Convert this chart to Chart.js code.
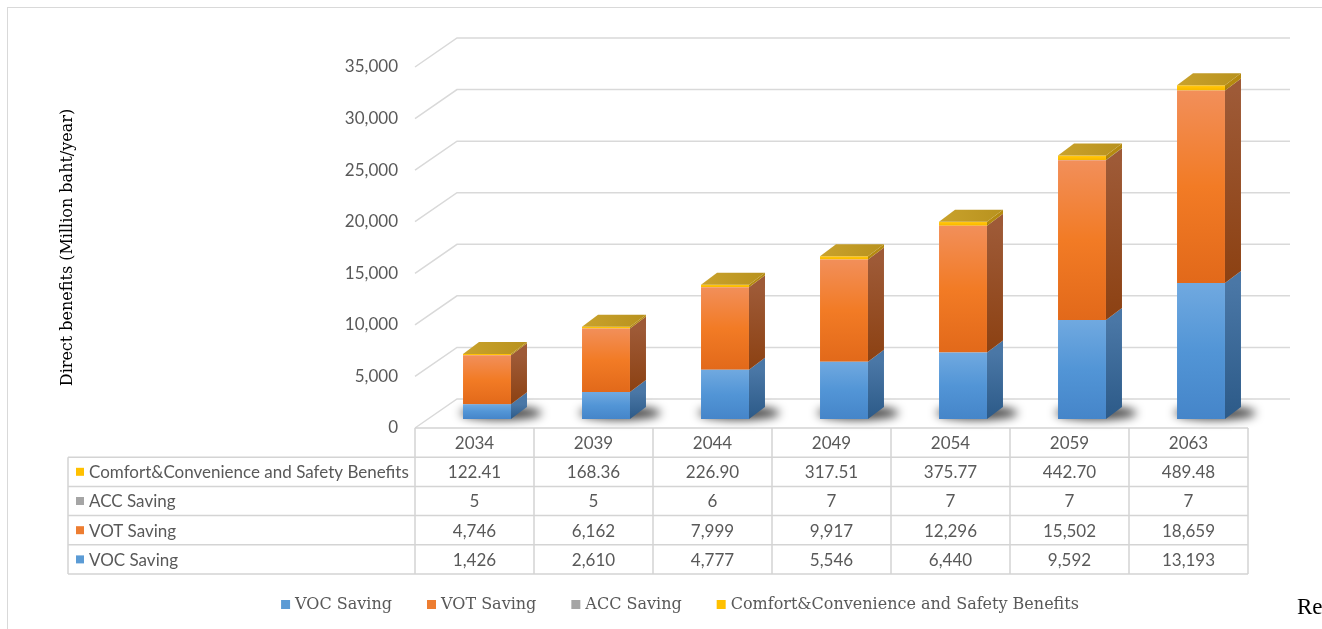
<!DOCTYPE html>
<html>
<head>
<meta charset="utf-8">
<title>Direct benefits</title>
<script src="https://cdn.jsdelivr.net/npm/chart.js@4.4.1/dist/chart.umd.min.js"></script>
<style>
  html, body { margin: 0; padding: 0; background: #fff; overflow: hidden; }
  #frame { position: absolute; left: 7px; top: 7px; width: 1400px; height: 700px; border: 1.5px solid #d9d9d9; }
  #wrap { position: absolute; left: 0; top: 0; width: 1322px; height: 629px; }
  #tail { position: absolute; left: 1297px; top: 594px; font: 23px 'Liberation Serif', serif; color: #000; }
</style>
</head>
<body>
<div id="frame"></div>
<div id="wrap"><canvas id="benefits"></canvas></div>
<div id="tail">Re</div>
<script>
const years = ['2034', '2039', '2044', '2049', '2054', '2059', '2063'];
const vocSaving = [1426, 2610, 4777, 5546, 6440, 9592, 13193];
const votSaving = [4746, 6162, 7999, 9917, 12296, 15502, 18659];
const accSaving = [5, 5, 6, 7, 7, 7, 7];
const comfortSafety = [122.41, 168.36, 226.90, 317.51, 375.77, 442.70, 489.48];
const yMax = 35000;
const yStep = 5000;

const TEXT = '#595959';
const GRID = '#d9d9d9';
// offsets of the front plane / back wall relative to the bar faces
const FRONT = { dx: -12.5, dy: 9 };
const BACK = { dx: 29.5, dy: -20 };
const DEPTH = { dx: 16, dy: -12 };

const fmt = (v, dec) => v.toLocaleString('en-US', { minimumFractionDigits: dec, maximumFractionDigits: dec });

// vertical gradient over one stacked segment
function faceFill(stops) {
	return (c) => {
		const chart = c.chart;
		const y = chart.scales.y;
		const flat = stops[1];
		if (c.type !== 'data' || !y) return flat;
		let base = 0;
		for (let k = 0; k < c.datasetIndex; k++) base += chart.data.datasets[k].data[c.dataIndex];
		const top = base + chart.data.datasets[c.datasetIndex].data[c.dataIndex];
		const y0 = y.getPixelForValue(top);
		const y1 = y.getPixelForValue(base);
		if (!isFinite(y0) || !isFinite(y1) || y0 === y1) return flat;
		const g = chart.ctx.createLinearGradient(0, y0, 0, y1);
		stops.forEach((s, i) => g.addColorStop(i / (stops.length - 1), s));
		return g;
	};
}

const series = [
	{ label: 'VOC Saving', data: vocSaving, decimals: 0, swatch: '#5b9bd5', front: ['#70a9e0', '#5295d6', '#4585c9'], side: ['#4a77a6', '#2c5a88'] },
	{ label: 'VOT Saving', data: votSaving, decimals: 0, swatch: '#ed7d31', front: ['#f28f5a', '#f27b25', '#e2691a'], side: ['#9e5a37', '#8c4112'] },
	{ label: 'ACC Saving', data: accSaving, decimals: 0, swatch: '#a5a5a5', front: ['#b0b0b0', '#a5a5a5', '#9a9a9a'], side: ['#707070', '#606060'] },
	{ label: 'Comfort&Convenience and Safety Benefits', data: comfortSafety, decimals: 2, swatch: '#ffc000', front: ['#ffc81a', '#ffc000', '#f5b800'], side: ['#b58a10', '#a07a08'] },
];

// floor shadows and perspective grid behind the bars
const wallPlugin = {
	id: 'walls',
	beforeDatasetsDraw(chart) {
		const { ctx, chartArea, scales: { y } } = chart;
		ctx.save();
		ctx.strokeStyle = GRID;
		ctx.lineWidth = 1.5;
		for (let v = 0; v <= yMax; v += yStep) {
			const py = y.getPixelForValue(v);
			ctx.beginPath();
			ctx.moveTo(chartArea.left + FRONT.dx, py + FRONT.dy);
			ctx.lineTo(chartArea.left + BACK.dx, py + BACK.dy);
			ctx.lineTo(chartArea.right + BACK.dx, py + BACK.dy);
			ctx.stroke();
		}
		const meta = chart.getDatasetMeta(0);
		ctx.filter = 'blur(5px)';
		ctx.fillStyle = 'rgba(0,0,0,0.7)';
		meta.data.forEach((bar) => {
			ctx.beginPath();
			ctx.ellipse(bar.x + 14, bar.base - 6, bar.width * 0.85, 7, 0, 0, Math.PI * 2);
			ctx.fill();
		});
		ctx.restore();
	},
	afterDatasetsDraw(chart) {
		const { ctx } = chart;
		const n = chart.data.labels.length;
		ctx.save();
		for (let i = 0; i < n; i++) {
			let topBar = null;
			chart.data.datasets.forEach((ds, d) => {
				const bar = chart.getDatasetMeta(d).data[i];
				const right = bar.x + bar.width / 2;
				if (bar.base - bar.y > 0.5) {
					const g = ctx.createLinearGradient(0, bar.y, 0, bar.base);
					g.addColorStop(0, series[d].side[0]);
					g.addColorStop(1, series[d].side[1]);
					ctx.fillStyle = g;
				} else {
					ctx.fillStyle = series[d].side[1];
				}
				ctx.beginPath();
				ctx.moveTo(right, bar.y);
				ctx.lineTo(right, bar.base);
				ctx.lineTo(right + DEPTH.dx, bar.base + DEPTH.dy);
				ctx.lineTo(right + DEPTH.dx, bar.y + DEPTH.dy);
				ctx.closePath();
				ctx.fill();
				topBar = bar;
			});
			const left = topBar.x - topBar.width / 2;
			const right = topBar.x + topBar.width / 2;
			const tg = ctx.createLinearGradient(left, 0, right + DEPTH.dx, 0);
			tg.addColorStop(0, '#c9a22c');
			tg.addColorStop(1, '#b8921e');
			ctx.fillStyle = tg;
			ctx.beginPath();
			ctx.moveTo(left, topBar.y);
			ctx.lineTo(right, topBar.y);
			ctx.lineTo(right + DEPTH.dx, topBar.y + DEPTH.dy);
			ctx.lineTo(left + DEPTH.dx, topBar.y + DEPTH.dy);
			ctx.closePath();
			ctx.fill();
		}
		ctx.restore();
	},
};

// axis title, data table under the plot and the legend line
const tablePlugin = {
	id: 'dataTable',
	afterDraw(chart) {
		const { ctx, scales: { x, y } } = chart;
		const n = years.length;
		const colW = x.width / n;
		const top = y.getPixelForValue(0) + FRONT.dy;
		const rowH = 29.2;
		const tableL = x.left + FRONT.dx;
		const tableR = x.right + FRONT.dx;
		const labelL = 68;
		const rows = series.slice().reverse();
		const bottom = top + rowH * (rows.length + 1);

		ctx.save();
		// y axis title, centred on the front plane
		ctx.translate(68, (y.top + y.bottom) / 2 + FRONT.dy);
		ctx.rotate(-Math.PI / 2);
		ctx.font = '16px "DejaVu Serif"';
		ctx.fillStyle = '#000';
		ctx.textAlign = 'center';
		ctx.textBaseline = 'middle';
		ctx.fillText('Direct benefits (Million baht/year)', 0, 0);
		ctx.restore();

		ctx.save();
		ctx.strokeStyle = '#d4d4d4';
		ctx.lineWidth = 1.5;
		ctx.beginPath();
		ctx.moveTo(tableL, top);
		ctx.lineTo(tableR, top);
		for (let r = 1; r <= rows.length + 1; r++) {
			ctx.moveTo(labelL, top + r * rowH);
			ctx.lineTo(tableR, top + r * rowH);
		}
		ctx.moveTo(labelL, top + rowH);
		ctx.lineTo(labelL, bottom);
		for (let j = 0; j <= n; j++) {
			const cx = x.getPixelForValue(Math.min(j, n - 1)) + (j === n ? colW / 2 : -colW / 2) + FRONT.dx;
			ctx.moveTo(cx, top);
			ctx.lineTo(cx, bottom);
		}
		ctx.stroke();

		ctx.font = '17px Lato';
		ctx.fillStyle = TEXT;
		ctx.textBaseline = 'middle';
		ctx.textAlign = 'center';
		years.forEach((yr, j) => ctx.fillText(yr, x.getPixelForValue(j) + FRONT.dx, top + rowH / 2 + 1));
		rows.forEach((s, r) => {
			const cy = top + rowH * (r + 1.5) + 1;
			ctx.textAlign = 'center';
			s.data.forEach((v, j) => ctx.fillText(fmt(v, s.decimals), x.getPixelForValue(j) + FRONT.dx, cy));
			ctx.fillStyle = s.swatch;
			ctx.fillRect(76, cy - 5, 8, 8);
			ctx.fillStyle = TEXT;
			ctx.textAlign = 'left';
			ctx.fillText(s.label, 89, cy);
		});

		// legend
		ctx.font = '16px "DejaVu Serif"';
		const gap = 35, box = 9, pad = 5;
		const widths = series.map((s) => box + pad + ctx.measureText(s.label).width);
		const total = widths.reduce((a, b) => a + b, 0) + gap * (series.length - 1);
		let lx = 680 - total / 2;
		const ly = 605;
		ctx.textAlign = 'left';
		series.forEach((s, k) => {
			ctx.fillStyle = s.swatch;
			ctx.fillRect(lx, ly - 5, box, box);
			ctx.fillStyle = TEXT;
			ctx.fillText(s.label, lx + box + pad, ly);
			lx += widths[k] + gap;
		});
		ctx.restore();
	},
};

Chart.defaults.font.family = 'Lato';
Chart.defaults.color = TEXT;

const ctx = document.getElementById('benefits').getContext('2d');

const benefitsChart = new Chart(ctx, {
	type: 'bar',
	data: {
		labels: years,
		datasets: series.map((s) => ({
			label: s.label,
			data: s.data,
			backgroundColor: faceFill(s.front),
			borderWidth: 0,
			categoryPercentage: 1,
			barPercentage: 0.403,
		})),
	},
	options: {
		responsive: true,
		maintainAspectRatio: false,
		animation: false,
		layout: { padding: { left: 0, right: 61.5, top: 58, bottom: 0 } },
		plugins: {
			legend: { display: false },
			tooltip: { enabled: false },
		},
		scales: {
			x: {
				stacked: true,
				grid: { display: false, drawTicks: false },
				border: { display: false },
				ticks: { display: false },
				afterFit: (scale) => { scale.height = 210; },
			},
			y: {
				stacked: true,
				min: 0,
				max: yMax,
				grid: { display: false, drawTicks: false },
				border: { display: false },
				ticks: {
					stepSize: yStep,
					padding: 29.5,
					labelOffset: FRONT.dy,
					font: { size: 17 },
					color: TEXT,
					callback: (v) => fmt(v, 0),
				},
				afterFit: (scale) => { scale.width = 427.5; },
			},
		},
	},
	plugins: [wallPlugin, tablePlugin],
});
</script>
</body>
</html>
